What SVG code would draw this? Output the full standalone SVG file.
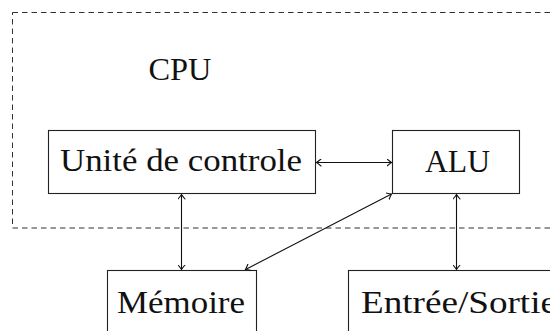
<svg xmlns="http://www.w3.org/2000/svg" width="550" height="331" viewBox="0 0 550 331">
<defs>
<style>
.box{fill:#fff;stroke:#222;stroke-width:1.1}
.lbl{font-family:"Liberation Serif","Times New Roman",serif;font-size:31px;fill:#111}
.con{fill:none;stroke:#111;stroke-width:1.1}
</style>
<marker id="ah" viewBox="-5 -4 6 8" markerWidth="6" markerHeight="8" refX="0" refY="0" orient="auto-start-reverse" markerUnits="userSpaceOnUse">
<path d="M-4.5,-3.5 Q-1.5,-1 0,0 Q-1.5,1 -4.5,3.5" fill="none" stroke="#111" stroke-width="1.1" stroke-linecap="round"/>
</marker>
</defs>
<rect width="550" height="331" fill="#fff"/>
<g id="cpu">
<rect x="12.5" y="12.5" width="560" height="215.5" fill="none" stroke="#333" stroke-width="1" stroke-dasharray="5.5 4"/>
<text class="lbl" x="180" y="80" text-anchor="middle" textLength="63" lengthAdjust="spacingAndGlyphs">CPU</text>
</g>
<g id="controle">
<rect class="box" x="48.5" y="130.5" width="267" height="63"/>
<text class="lbl" x="60" y="171" textLength="242" lengthAdjust="spacingAndGlyphs">Unité de controle</text>
</g>
<g id="alu">
<rect class="box" x="392.5" y="130.5" width="127" height="63"/>
<text class="lbl" x="425" y="171.5" textLength="65" lengthAdjust="spacingAndGlyphs">ALU</text>
</g>
<g id="memoire">
<rect class="box" x="107.5" y="270.5" width="149" height="80"/>
<text class="lbl" x="117" y="312.5" textLength="128" lengthAdjust="spacingAndGlyphs">Mémoire</text>
</g>
<g id="es">
<rect class="box" x="348.5" y="270.5" width="230" height="80"/>
<text class="lbl" x="361" y="312.5" textLength="196" lengthAdjust="spacingAndGlyphs">Entrée/Sortie</text>
</g>
<g id="connectors">
<line class="con" x1="316.5" y1="162.5" x2="391.5" y2="162.5" marker-start="url(#ah)" marker-end="url(#ah)"/>
<line class="con" x1="181.5" y1="194.5" x2="181.5" y2="269.5" marker-start="url(#ah)" marker-end="url(#ah)"/>
<line class="con" x1="456.5" y1="194.5" x2="456.5" y2="269.5" marker-start="url(#ah)" marker-end="url(#ah)"/>
<line class="con" x1="391.5" y1="194" x2="245.5" y2="269.5" marker-start="url(#ah)" marker-end="url(#ah)"/>
</g>
</svg>
